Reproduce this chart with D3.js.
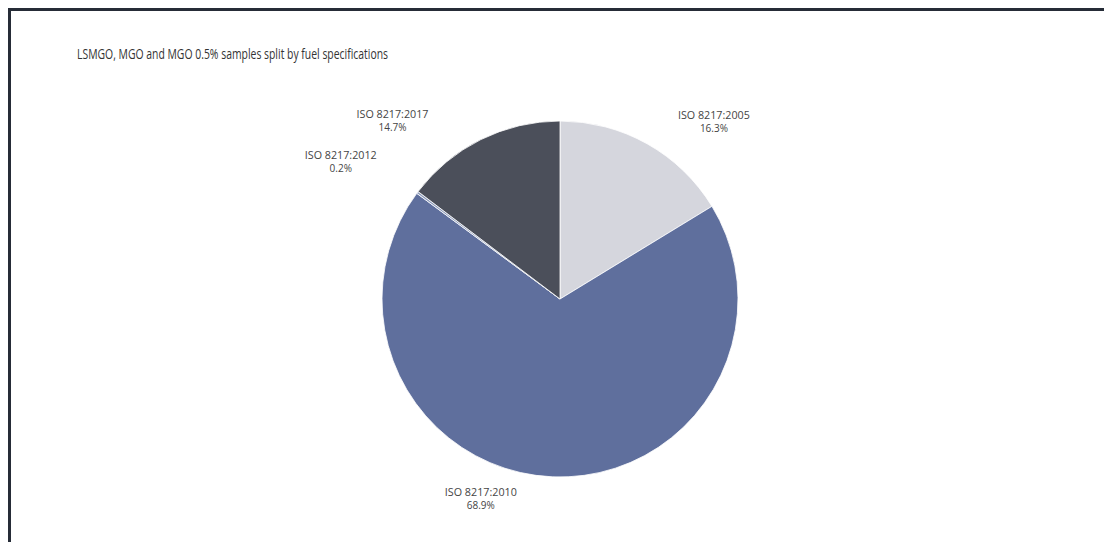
<!DOCTYPE html>
<html>
<head>
<meta charset="utf-8">
<script src="https://cdn.jsdelivr.net/npm/d3@7"></script>
<style>
  html, body { margin: 0; padding: 0; background: #fff; }
  svg { display: block; }
</style>
</head>
<body>
<svg id="chart" width="1104" height="542"></svg>
<script>
// ---- data ----
const categories = ["ISO 8217:2005", "ISO 8217:2010", "ISO 8217:2012", "ISO 8217:2017"];
const shares = [16.3, 68.9, 0.2, 14.7];
const title = "LSMGO, MGO and MGO 0.5% samples split by fuel specifications";

// ---- styling / layout ----
const colors = ["#d5d6dd", "#5f6f9d", "#8e9cbc", "#4b4f5a"];
const labelNudgeDeg = [11.6, 19.2, -4.6, -16.7];   // Excel-like label placement nudges
const labelRadius = [235, 214, 259, 245];

const W = 1104, H = 542;
const cx = 560, cy = 299, R = 178;

const svg = d3.select("#chart");

// frame (extends beyond right/bottom edge)
svg.append("rect")
  .attr("x", 9.5).attr("y", 9.5)
  .attr("width", 1300).attr("height", 800)
  .attr("fill", "none")
  .attr("stroke", "#262c37")
  .attr("stroke-width", 3);

// title
svg.append("text")
  .attr("x", 77).attr("y", 59)
  .attr("font-family", "Open Sans, sans-serif")
  .attr("font-size", 14)
  .attr("fill", "#333")
  .attr("textLength", 311)
  .attr("lengthAdjust", "spacingAndGlyphs")
  .text(title);

const data = categories.map((c, i) => ({ cat: c, value: shares[i], i }));

const pie = d3.pie().sort(null).value(d => d.value);
const arcs = pie(data);
const arc = d3.arc().innerRadius(0).outerRadius(R);

const g = svg.append("g").attr("transform", `translate(${cx},${cy})`);

g.selectAll("path.slice")
  .data(arcs)
  .join("path")
  .attr("class", "slice")
  .attr("d", arc)
  .attr("fill", d => colors[d.data.i])
  .attr("stroke", "#ffffff")
  .attr("stroke-width", 0.8)
  .attr("stroke-linejoin", "round");

// labels
const lab = g.selectAll("g.lab")
  .data(arcs)
  .join("g")
  .attr("class", "lab")
  .attr("transform", d => {
    const i = d.data.i;
    const mid = (d.startAngle + d.endAngle) / 2 + labelNudgeDeg[i] * Math.PI / 180;
    const r = labelRadius[i];
    const la = d3.arc().innerRadius(r).outerRadius(r)
      .startAngle(mid).endAngle(mid);
    const [x, y] = la.centroid();
    return `translate(${x},${y})`;
  });

lab.append("text")
  .attr("text-anchor", "middle")
  .attr("y", -2)
  .attr("font-family", "Open Sans, sans-serif")
  .attr("font-size", 10)
  .attr("fill", "#444")
  .attr("textLength", 72)
  .attr("lengthAdjust", "spacingAndGlyphs")
  .text(d => d.data.cat);

lab.append("text")
  .attr("text-anchor", "middle")
  .attr("y", 11)
  .attr("font-family", "Open Sans, sans-serif")
  .attr("font-size", 10)
  .attr("fill", "#444")
  .text(d => d.data.value.toFixed(1) + "%");
</script>
</body>
</html>
